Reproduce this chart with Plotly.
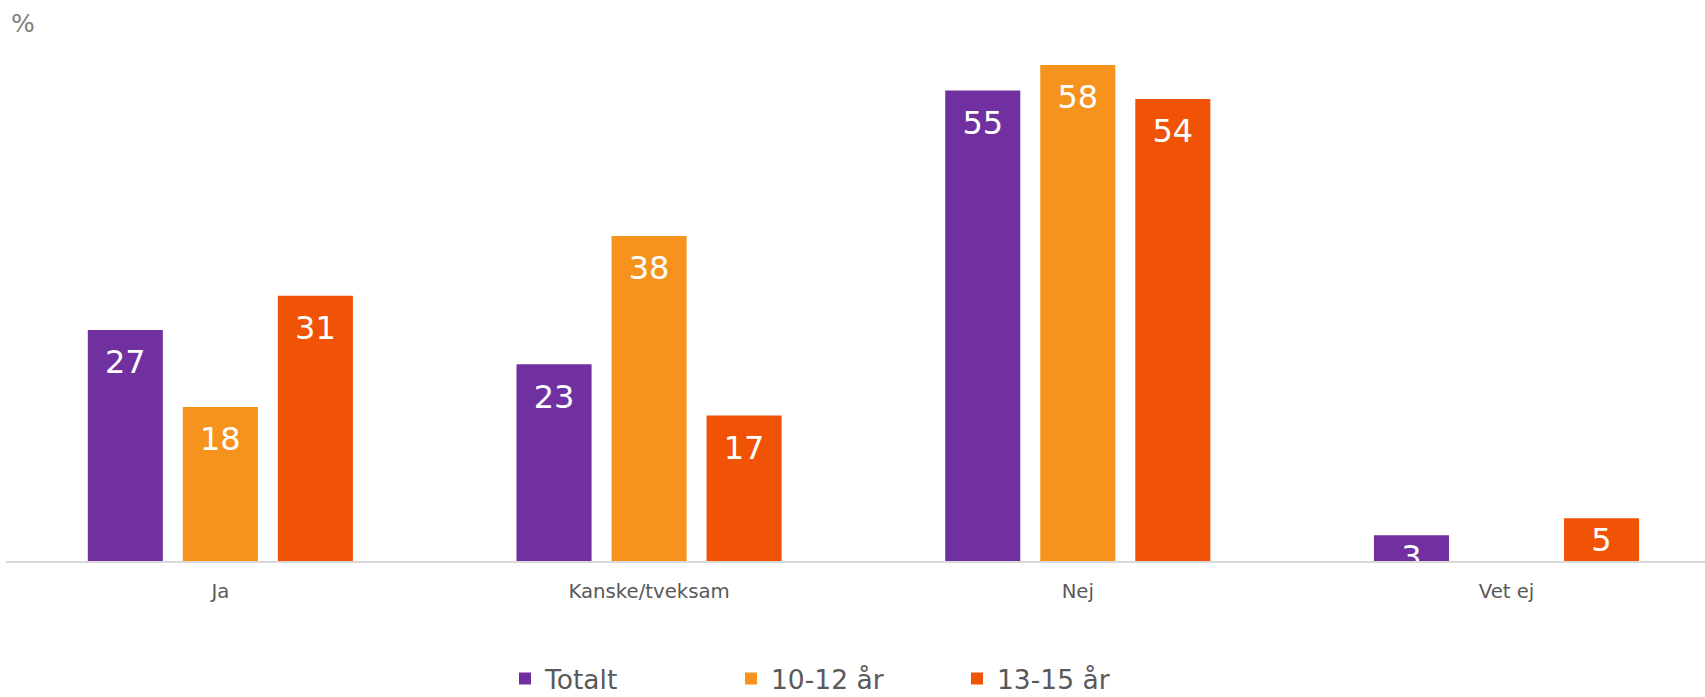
import plotly.graph_objects as go

# ---- data ----
categories = ["Ja", "Kanske/tveksam", "Nej", "Vet ej"]
series_names = ["Totalt", "10-12 år", "13-15 år"]
totalt = [27, 23, 55, 3]
age_10_12 = [18, 38, 58, None]
age_13_15 = [31, 17, 54, 5]
y_unit = "%"

# ---- style ----
colors = ["#7030A0", "#F6921E", "#F05206"]
FONT = "Verdana, DejaVu Sans, sans-serif"
TEXT_GRAY = "#595959"
LABEL = "<span style='font-size:32px'>%{y}</span>"
# a blank (no-break space) first line pushes the value label lower inside tall bars
PUSH = "\u00a0<br>"

fig = go.Figure()
for name, vals, col in zip(series_names, [totalt, age_10_12, age_13_15], colors):
    tmpl = [(PUSH + LABEL) if (v is not None and v >= 10) else LABEL for v in vals]
    fig.add_trace(go.Bar(
        x=categories, y=vals, name=name,
        marker=dict(color=col, line=dict(width=0)),
        texttemplate=tmpl, textposition="inside", insidetextanchor="end",
        textangle=0, constraintext="none",
        textfont=dict(family=FONT, size=18, color="white"),
        hoverinfo="skip",
    ))

fig.update_layout(
    width=1705, height=697,
    margin=dict(l=6, r=0, t=5, b=136, autoexpand=False),
    paper_bgcolor="white", plot_bgcolor="white",
    barmode="group", bargap=0.335, bargroupgap=0.21,
    font=dict(family=FONT, color=TEXT_GRAY),
    xaxis=dict(range=[-0.5, 3.463], showline=True, linecolor="#D9D9D9", linewidth=2,
               showgrid=False, zeroline=False, ticks="",
               tickfont=dict(family=FONT, size=19.7, color=TEXT_GRAY),
               ticklabelstandoff=11),
    yaxis=dict(range=[0, 65], visible=False),
    legend=dict(orientation="h", x=0.2937, xanchor="left", y=-0.212, yanchor="middle",
                font=dict(family=FONT, size=26.5, color=TEXT_GRAY),
                entrywidth=181, itemwidth=30, bgcolor="rgba(0,0,0,0)"),
    annotations=[dict(text=y_unit, xref="paper", yref="paper", x=0.002, y=0.9676,
                      xanchor="left", yanchor="middle", showarrow=False,
                      font=dict(family=FONT, size=25, color="#808080"))],
    showlegend=True,
)

fig.write_html("out.html",
               config={"displayModeBar": False},
               post_script="document.body.style.margin='0';document.body.style.overflow='hidden';")
